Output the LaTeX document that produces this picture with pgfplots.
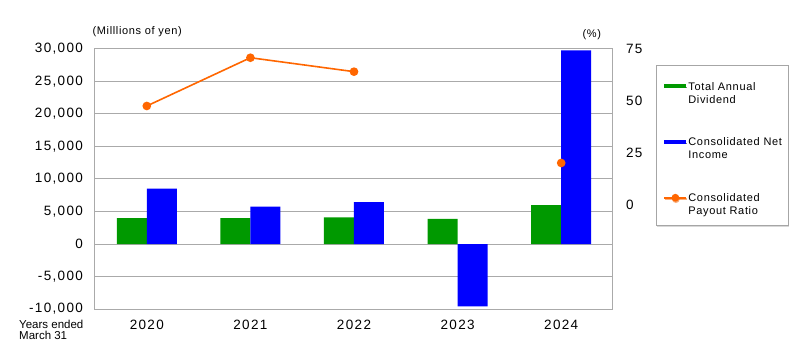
\documentclass[border=0pt]{standalone}
\usepackage{pgfplots}
\pgfplotsset{compat=1.18}
\usepackage{fontspec}
\setmainfont{Liberation Sans}
\newfontfamily\tickfont[LetterSpace=10]{Liberation Sans}
\newfontfamily\smallfont[LetterSpace=6]{Liberation Sans}
\usetikzlibrary{shadows}
\definecolor{divgreen}{RGB}{0,153,0}
\definecolor{niblue}{RGB}{0,0,255}
\definecolor{porange}{RGB}{255,102,0}
\definecolor{gridgray}{RGB}{170,170,170}
\begin{document}
\begin{tikzpicture}
\path[use as bounding box] (-95bp,-42bp) rectangle (705bp,309bp);
\begin{axis}[
  at={(0bp,0bp)}, anchor=south west,
  scale only axis, width=518bp, height=260bp,
  xmin=-0.5, xmax=4.5, ymin=-10000, ymax=30000,
  scaled y ticks=false,
  xtick={0,1,2,3,4}, xticklabels={2020,2021,2022,2023,2024},
  ytick={-10000,-5000,0,5000,10000,15000,20000,25000,30000},
  yticklabels={{-10,000},{-5,000},0,{5,000},{10,000},{15,000},{20,000},{25,000},{30,000}},
  ymajorgrids, grid style={gridgray, line width=1bp},
  axis line style={gridgray, line width=1bp},
  major tick length=0pt,
  tick label style={font=\fontsize{13.5bp}{16bp}\tickfont},
  yticklabel style={xshift=-8.5bp},
  xticklabel style={yshift=-8bp},
  ybar=0pt, bar width=30bp,
  clip=false,
]
\addplot[fill=divgreen, draw=none] coordinates {(0,4000)(1,4000)(2,4100)(3,3850)(4,6000)};
\addplot[fill=niblue, draw=none] coordinates {(0,8500)(1,5740)(2,6460)(3,-9600)(4,29780)};
\end{axis}
\begin{axis}[
  at={(0bp,0bp)}, anchor=south west,
  scale only axis, width=518bp, height=260bp,
  xmin=-0.5, xmax=4.5, ymin=-50, ymax=75,
  axis y line*=right, axis x line=none,
  axis line style={draw=none},
  ytick={0,25,50,75},
  /pgf/number format/assume math mode=true,
  major tick length=0pt,
  tick label style={font=\fontsize{13.5bp}{16bp}\tickfont},
  yticklabel style={xshift=9.5bp},
  unbounded coords=jump,
  clip=false,
  legend cell align=left,
  legend style={at={(1.083,0.938)}, anchor=north west,
    draw=gray!70, line width=0.8bp, fill=white,
    drop shadow={shadow xshift=0.5bp, shadow yshift=-1.5bp, fill=gray!60},
    font=\fontsize{11bp}{13bp}\smallfont,
    nodes={align=left, inner sep=0pt},
    row sep=33bp, inner xsep=6bp, inner ysep=9.5bp},
]
\addlegendimage{legend image code/.code={\draw[line width=4bp, divgreen] (0bp,4bp) -- (22bp,4bp);}}
\addlegendentry{\rule{0pt}{15.5bp}Total Annual\\Dividend}
\addlegendimage{legend image code/.code={\draw[line width=4bp, niblue] (0bp,7bp) -- (22bp,7bp);}}
\addlegendentry{Consolidated Net\\Income}
\addplot[porange, line width=1.6bp, mark=*, mark size=3.5bp, mark options={fill=porange},
  legend image code/.code={\draw[porange, line width=1.6bp] (0bp,7bp) -- (22bp,7bp); \fill[porange] (11bp,7bp) circle (3bp);}]
  coordinates {(0,47.6)(1,70.8)(2,64.1)(3,nan)(4,20.2)};
\addlegendentry{Consolidated\\Payout Ratio}
\end{axis}
\node[anchor=west, font=\fontsize{11bp}{13bp}\smallfont] at (-6bp,277bp) {(Milllions of yen)};
\node[anchor=west, font=\fontsize{11bp}{13bp}\smallfont] at (484bp,274bp) {(\%)};
\node[anchor=north west, align=left, inner sep=0pt, font=\fontsize{11.5bp}{10.5bp}\selectfont] at (-76bp,-11bp) {Years ended\\March 31};
\end{tikzpicture}
\end{document}
